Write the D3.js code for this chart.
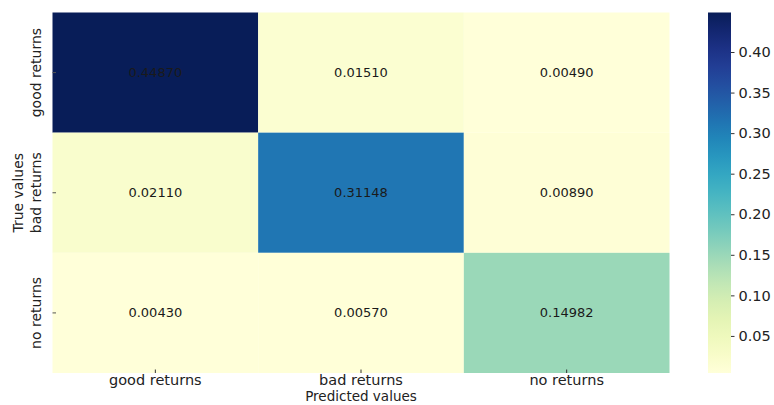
<!DOCTYPE html>
<html>
<head>
<meta charset="utf-8">
<script src="https://cdn.jsdelivr.net/npm/d3@7"></script>
<style>
  html, body { margin: 0; padding: 0; background: #fff; }
  svg { display: block; font-family: "DejaVu Sans", sans-serif; }
</style>
</head>
<body>
<svg id="chart" width="774" height="405"></svg>
<script>
// Confusion matrix, normalised over all samples
const trueLabels = ["good returns", "bad returns", "no returns"];
const predLabels = ["good returns", "bad returns", "no returns"];
const rowGood = [0.44870, 0.01510, 0.00490];
const rowBad  = [0.02110, 0.31148, 0.00890];
const rowNo   = [0.00430, 0.00570, 0.14982];
const colorbarTicks = [0.05, 0.10, 0.15, 0.20, 0.25, 0.30, 0.35, 0.40];
const xTitle = "Predicted values";
const yTitle = "True values";

const matrix = [rowGood, rowBad, rowNo];
const cells = [];
matrix.forEach((row, i) => row.forEach((v, j) => cells.push({ t: trueLabels[i], p: predLabels[j], v })));

const svg = d3.select("#chart");
const plot = { left: 52.5, right: 669.5, top: 12.5, bottom: 373 };
const bar = { left: 708, right: 731, top: 12.5, bottom: 373 };

const x = d3.scaleBand().domain(predLabels).range([plot.left, plot.right]);
const y = d3.scaleBand().domain(trueLabels).range([plot.top, plot.bottom]);

const vals = cells.map(d => d.v);
const vmin = d3.min(vals), vmax = d3.max(vals);
const color = d3.scaleSequential(d3.interpolateYlGnBu).domain([vmin, vmax]);

// Heatmap cells
svg.append("g").selectAll("rect").data(cells).join("rect")
  .attr("x", d => x(d.p))
  .attr("y", d => y(d.t))
  .attr("width", x.bandwidth())
  .attr("height", y.bandwidth())
  .attr("fill", d => color(d.v));

// Cell annotations
svg.append("g").selectAll("text").data(cells).join("text")
  .attr("x", d => x(d.p) + x.bandwidth() / 2)
  .attr("y", d => y(d.t) + y.bandwidth() / 2)
  .attr("text-anchor", "middle")
  .attr("dominant-baseline", "central")
  .attr("font-size", 13)
  .attr("fill", "#1a1a1a")
  .text(d => d3.format(".5f")(d.v));

// Axes
const xAxis = svg.append("g")
  .attr("transform", `translate(0,${plot.bottom})`)
  .call(d3.axisBottom(x).tickSize(3.5).tickPadding(-1.5));
xAxis.select(".domain").remove();
xAxis.selectAll(".tick line").attr("stroke", "#333").attr("y1", -3.5).attr("y2", 0);
xAxis.selectAll(".tick text")
  .attr("font-family", "DejaVu Sans, sans-serif")
  .attr("font-size", 14.5)
  .attr("fill", "#222");

const yAxis = svg.append("g")
  .attr("transform", `translate(${plot.left},0)`)
  .call(d3.axisLeft(y).tickSize(0).tickPadding(0));
yAxis.select(".domain").remove();
yAxis.selectAll(".tick line").remove();
yAxis.selectAll(".tick").append("line")
  .attr("x1", 0).attr("x2", 3.5)
  .attr("stroke", "#555");
yAxis.selectAll(".tick text")
  .attr("font-family", "DejaVu Sans, sans-serif")
  .attr("font-size", 14)
  .attr("fill", "#222")
  .attr("text-anchor", "middle")
  .attr("x", 0).attr("dy", 0)
  .attr("transform", "translate(-12,0) rotate(-90)");

// Axis titles
svg.append("text")
  .attr("x", (plot.left + plot.right) / 2)
  .attr("y", 401)
  .attr("text-anchor", "middle")
  .attr("font-size", 13.5)
  .attr("fill", "#222")
  .text(xTitle);

svg.append("text")
  .attr("transform", `translate(23,${(plot.top + plot.bottom) / 2}) rotate(-90)`)
  .attr("text-anchor", "middle")
  .attr("font-size", 14)
  .attr("fill", "#222")
  .text(yTitle);

// Colorbar
const defs = svg.append("defs");
const grad = defs.append("linearGradient")
  .attr("id", "cbar").attr("x1", 0).attr("x2", 0).attr("y1", 1).attr("y2", 0);
d3.range(0, 1.0001, 0.05).forEach(t => {
  grad.append("stop").attr("offset", t).attr("stop-color", color(vmin + t * (vmax - vmin)));
});
svg.append("rect")
  .attr("x", bar.left).attr("y", bar.top)
  .attr("width", bar.right - bar.left).attr("height", bar.bottom - bar.top)
  .attr("fill", "url(#cbar)");

const cScale = d3.scaleLinear().domain([vmin, vmax]).range([bar.bottom, bar.top]);
const cAxis = svg.append("g")
  .attr("transform", `translate(${bar.right},0)`)
  .call(d3.axisRight(cScale).tickValues(colorbarTicks).tickFormat(d3.format(".2f")).tickSize(3.5).tickPadding(4));
cAxis.select(".domain").remove();
cAxis.selectAll(".tick line").attr("stroke", "#333");
cAxis.selectAll(".tick text")
  .attr("font-family", "DejaVu Sans, sans-serif")
  .attr("font-size", 14.5)
  .attr("fill", "#222");
</script>
</body>
</html>
